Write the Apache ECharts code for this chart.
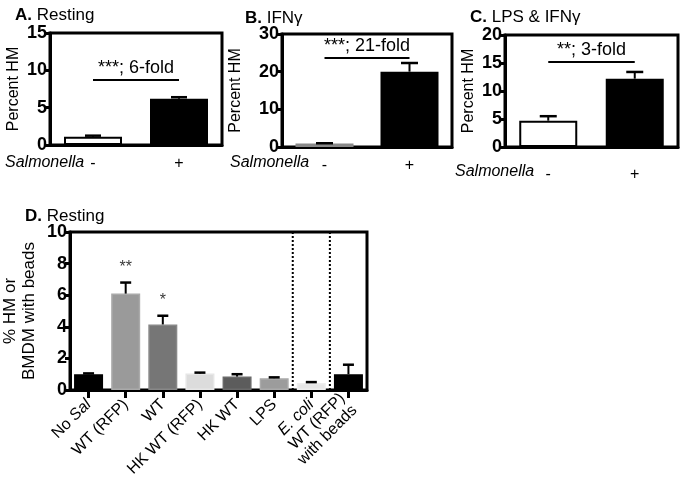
<!DOCTYPE html>
<html><head><meta charset="utf-8">
<script src="https://cdn.jsdelivr.net/npm/echarts@6/dist/echarts.min.js"></script>
<style>html,body{margin:0;padding:0;background:#fff}#c{width:680px;height:480px}</style>
</head><body><div id="c"></div>
<script>
// ---- data ----
var catsABC = ['-', '+'];
var valsA = [1.1, 6.2];
var errA = [1.25, 6.4];
var valsB = [0.9, 20.0];
var errB = [1.0, 22.3];
var valsC = [4.7, 12.2];
var errC = [5.5, 13.4];
var sigA = {y: 8.7, text: '***; 6-fold'};
var sigB = {y: 23.6, text: '***; 21-fold'};
var sigC = {y: 15.2, text: '**; 3-fold'};
var catsD = ['No Sal', 'WT (RFP)', 'WT', 'HK WT (RFP)', 'HK WT', 'LPS', 'E. coli', 'WT (RFP)\nwith beads'];
var valsD = [1.0, 6.1, 4.15, 1.05, 0.85, 0.75, 0.45, 1.0];
var errD = [1.05, 6.8, 4.7, 1.1, 1.0, 0.8, 0.5, 1.6];
var starsD = ['', '**', '*', '', '', '', '', ''];
var colorsD = ['#000000', '#9a9a9a', '#767676', '#dcdcdc', '#5c5c5c', '#9c9c9c', '#e6e6e6', '#000000'];
var bordersD = ['#000000', '#aaaaaa', '#888888', '#e6e6e6', '#6a6a6a', '#aaaaaa', '#eeeeee', '#000000'];
var separatorsD = [5, 6]; // dotted line after these category indices
var ticksA = [0, 15, 5], ticksB = [0, 30, 10], ticksC = [0, 20, 5], ticksD = [0, 10, 2];

var FONT = 'Liberation Sans, Arial, sans-serif';
var chart = echarts.init(document.getElementById('c'));

function errRender(capW) {
  return function (params, api) {
    var x = api.value(0), v = api.value(1), e = api.value(2);
    var p0 = api.coord([x, v]), p1 = api.coord([x, e]);
    return {type: 'group', children: [
      {type: 'line', shape: {x1: p0[0], y1: p0[1], x2: p1[0], y2: p1[1]}, style: {stroke: '#000', lineWidth: 2}},
      {type: 'line', shape: {x1: p1[0] - capW / 2, y1: p1[1], x2: p1[0] + capW / 2, y2: p1[1]}, style: {stroke: '#000', lineWidth: 2.5}}
    ]};
  };
}

function grid(l, t, w, h) {
  return {left: l, top: t, width: w, height: h, show: true, borderColor: '#000', borderWidth: 3, backgroundColor: 'transparent', containLabel: false};
}
function yAx(idx, t, name, gap, nfs) {
  return {type: 'value', gridIndex: idx, min: t[0], max: t[1], interval: t[2],
    name: name, nameLocation: 'middle', nameGap: gap,
    nameTextStyle: {fontFamily: FONT, fontSize: nfs, color: '#000', lineHeight: nfs + 2},
    axisLine: {show: true, lineStyle: {color: '#000', width: 3}},
    axisTick: {show: true, length: 5, lineStyle: {color: '#000', width: 3}},
    axisLabel: {fontFamily: FONT, fontSize: 18, fontWeight: 'bold', color: '#000', margin: 3},
    splitLine: {show: false}};
}
function xAxABC(idx, margin) {
  return {type: 'category', gridIndex: idx, data: catsABC,
    axisLine: {show: true, lineStyle: {color: '#000', width: 3}},
    axisTick: {show: false},
    axisLabel: {fontFamily: FONT, fontSize: 16, color: '#000', margin: margin}};
}
function mkErr(vals, errs) {
  return vals.map(function (v, i) { return [i, v, errs[i]]; });
}
function barSeries(idx, vals, sig, whiteBorder) {
  return {type: 'bar', xAxisIndex: idx, yAxisIndex: idx, barWidth: 58,
    data: vals.map(function (v, i) {
      return {value: v, itemStyle: i === 0 ? {color: '#fff', borderColor: whiteBorder, borderWidth: 2} : {color: '#000', borderColor: '#000', borderWidth: 0}};
    }),
    markLine: {silent: true, symbol: 'none', animation: false,
      lineStyle: {color: '#000', width: 2, type: 'solid'},
      label: {show: true, position: 'middle', formatter: sig.text, fontFamily: FONT, fontSize: 18, color: '#000', distance: 3},
      data: [[{coord: [0, sig.y]}, {coord: [1, sig.y]}]]}};
}

var option = {
  animation: false,
  backgroundColor: '#fff',
  title: [
    {text: '{b|A.} Resting', left: 10, top: 2},
    {text: '{b|B.} IFNγ', left: 240, top: 5},
    {text: '{b|C.} LPS & IFNγ', left: 465, top: 4},
    {text: '{b|D.} Resting', left: 20, top: 203}
  ].map(function (t) {
    t.textStyle = {fontFamily: FONT, fontSize: 17, fontWeight: 'normal', color: '#000',
      rich: {b: {fontFamily: FONT, fontSize: 17, fontWeight: 'bold', color: '#000'}}};
    return t;
  }),
  graphic: [
    {type: 'text', left: 5, top: 155, style: {text: 'Salmonella', font: 'italic 16px ' + FONT, fill: '#000'}},
    {type: 'text', left: 230, top: 155, style: {text: 'Salmonella', font: 'italic 16px ' + FONT, fill: '#000'}},
    {type: 'text', left: 455, top: 164, style: {text: 'Salmonella', font: 'italic 16px ' + FONT, fill: '#000'}}
  ],
  grid: [grid(50, 33, 172, 112), grid(282, 34, 170, 113), grid(505, 35, 173, 112), grid(60, 232, 307, 158)],
  xAxis: [xAxABC(0, 11), xAxABC(1, 11), xAxABC(2, 20),
    {type: 'category', gridIndex: 3, data: catsD,
      axisLine: {show: true, lineStyle: {color: '#000', width: 3}},
      axisTick: {show: true, alignWithLabel: true, length: 8, lineStyle: {color: '#000', width: 3}},
      axisLabel: {fontFamily: FONT, fontSize: 16, color: '#000', rotate: 45, margin: 12, interval: 0, lineHeight: 17,
        formatter: function (v) {
          if (v === 'No Sal') return 'No {i|Sal}';
          if (v === 'E. coli') return '{i|E. coli}';
          return v;
        },
        rich: {i: {fontFamily: FONT, fontSize: 16, fontStyle: 'italic', color: '#000'}}}}],
  yAxis: [yAx(0, ticksA, 'Percent HM', 22, 16), yAx(1, ticksB, 'Percent HM', 37, 16), yAx(2, ticksC, 'Percent HM', 27, 16),
    yAx(3, ticksD, '% HM or\nBMDM with beads', 31, 17)],
  series: [
    barSeries(0, valsA, sigA, '#000'),
    {type: 'custom', xAxisIndex: 0, yAxisIndex: 0, renderItem: errRender(16), data: mkErr(valsA, errA), z: 5},
    barSeries(1, valsB, sigB, '#888'),
    {type: 'custom', xAxisIndex: 1, yAxisIndex: 1, renderItem: errRender(17), data: mkErr(valsB, errB), z: 5},
    barSeries(2, valsC, sigC, '#000'),
    {type: 'custom', xAxisIndex: 2, yAxisIndex: 2, renderItem: errRender(17), data: mkErr(valsC, errC), z: 5},
    {type: 'bar', xAxisIndex: 3, yAxisIndex: 3, barWidth: 29,
      data: valsD.map(function (v, i) { return {value: v, itemStyle: {color: colorsD[i], borderColor: bordersD[i], borderWidth: 1.5}}; })},
    {type: 'custom', xAxisIndex: 3, yAxisIndex: 3, renderItem: errRender(11), data: mkErr(valsD, errD), z: 5},
    {type: 'scatter', xAxisIndex: 3, yAxisIndex: 3, symbolSize: 0,
      data: errD.map(function (e, i) { return [i, e]; }),
      label: {show: true, position: 'top', distance: 7, fontFamily: FONT, fontSize: 16, color: '#000',
        formatter: function (p) { return starsD[p.dataIndex]; }}},
    {type: 'custom', xAxisIndex: 3, yAxisIndex: 3, z: 6,
      data: separatorsD.map(function (s) { return [s]; }),
      renderItem: function (params, api) {
        var idx = api.value(0);
        var a = api.coord([idx, 0]), top = api.coord([idx, 10]);
        var band = api.size([1, 0])[0];
        var x = a[0] + band / 2;
        return {type: 'line', shape: {x1: x, y1: top[1], x2: x, y2: a[1]},
          style: {stroke: '#000', lineWidth: 2, lineDash: [2, 2]}};
      }}
  ]
};
chart.setOption(option);
</script></body></html>
